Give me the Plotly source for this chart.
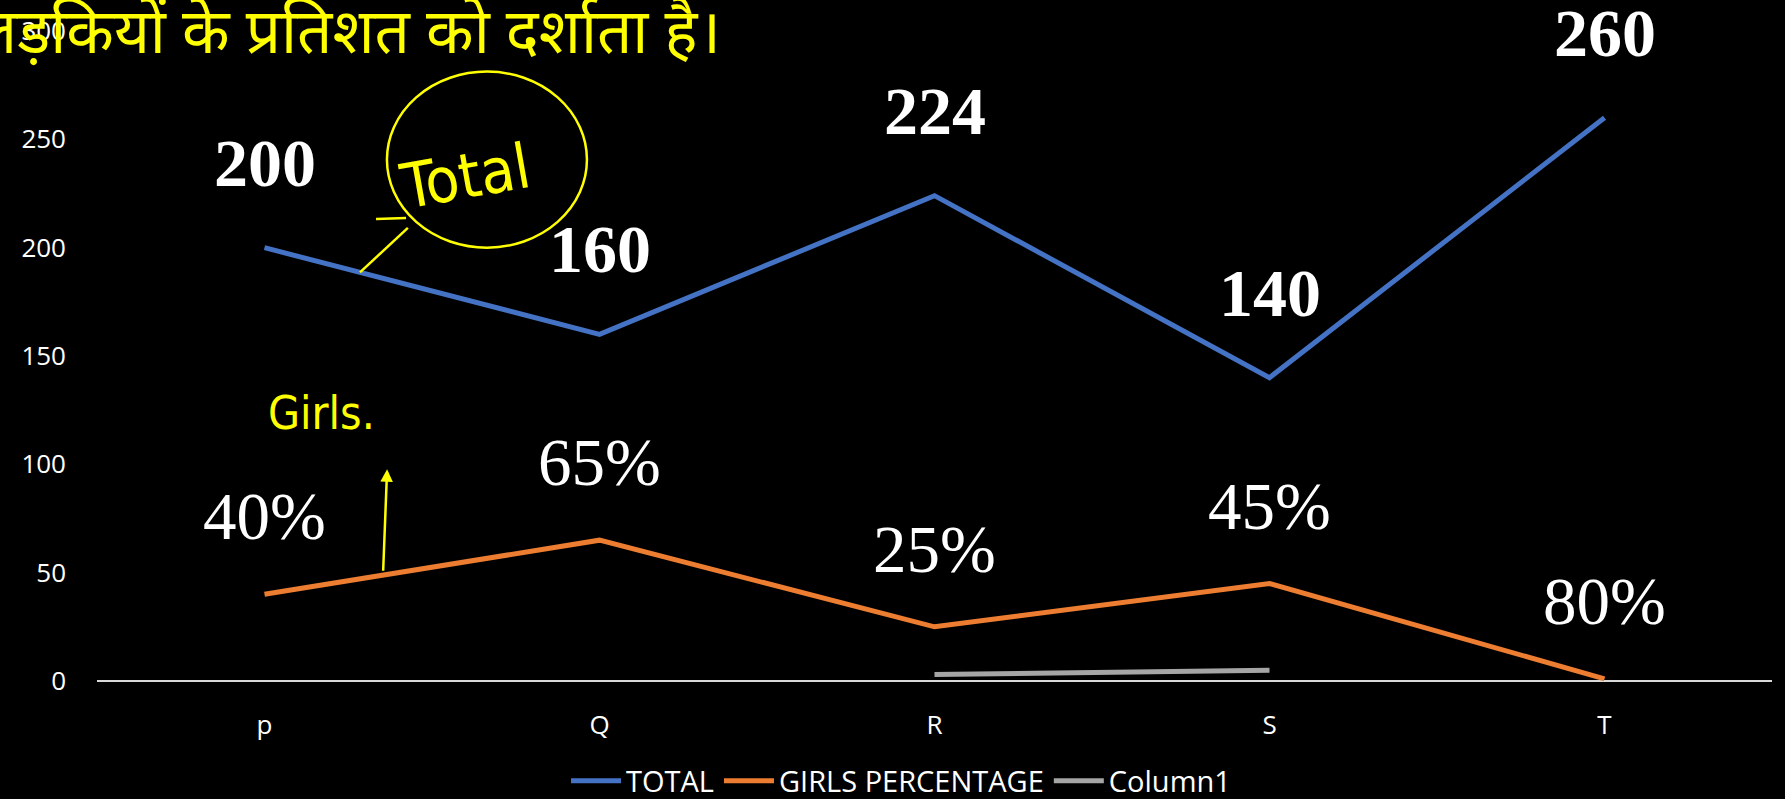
import plotly.graph_objects as go

categories = ["p", "Q", "R", "S", "T"]
total = [200, 160, 224, 140, 260]
girls = [40, 65, 25, 45, 1]
column1 = [None, None, 3, 5, None]
total_labels = ["200", "160", "224", "140", "260"]
girls_labels = ["40%", "65%", "25%", "45%", "80%"]
y_ticks = [0, 50, 100, 150, 200, 250, 300]

fig = go.Figure()
fig.add_trace(go.Scatter(x=categories, y=total, name="TOTAL", mode="lines",
                         line=dict(color="#4472C4", width=5)))
fig.add_trace(go.Scatter(x=categories, y=girls, name="GIRLS PERCENTAGE", mode="lines",
                         line=dict(color="#ED7D31", width=5)))
fig.add_trace(go.Scatter(x=categories, y=column1, name="Column1", mode="lines",
                         line=dict(color="#A5A5A5", width=5)))

annotations = []
for c, v, t in zip(categories, total, total_labels):
    annotations.append(dict(x=c, y=v, text="<b>" + t + "</b>", showarrow=False, yshift=85,
                            font=dict(family="Liberation Serif", size=68, color="white"),
                            xref="x", yref="y"))
for c, v, t in zip(categories, girls, girls_labels):
    annotations.append(dict(x=c, y=v, text=t, showarrow=False, yshift=78,
                            font=dict(family="Liberation Serif", size=67, color="white"),
                            xref="x", yref="y"))

hand_font = "DejaVu Sans Condensed, Liberation Sans Narrow, DejaVu Sans"
# Hindi heading (partly cut at top-left)
annotations.append(dict(x=0.3737, y=1.003, xref="paper", yref="paper", xanchor="right", yanchor="middle",
                        text="लड़कियों के प्रतिशत को दर्शाता है।", showarrow=False,
                        font=dict(size=62, color="#FFFF00", family="Noto Sans, sans-serif")))
# handwritten notes
annotations.append(dict(x=0.2197, y=0.776, xref="paper", yref="paper", xanchor="center", yanchor="middle",
                        text="Total", showarrow=False, textangle=-10,
                        font=dict(size=62, color="#FFFF00", family=hand_font)))
annotations.append(dict(x=0.1340, y=0.4125, xref="paper", yref="paper", xanchor="center", yanchor="middle",
                        text="Girls.", showarrow=False,
                        font=dict(size=46, color="#FFFF00", family=hand_font)))
annotations.append(dict(x=0.1732, y=0.3257, ax=-4, ay=103, xref="paper", yref="paper", text="",
                        showarrow=True, arrowhead=2, arrowwidth=2.5, arrowcolor="#FFFF00"))

shapes = [
    dict(type="circle", xref="paper", yref="paper", x0=0.1731, x1=0.2925, y0=0.6667, y1=0.9376,
         line=dict(color="#FFFF00", width=2.5)),
    # pointer from circle to TOTAL line
    dict(type="line", xref="paper", yref="paper", x0=0.1570, x1=0.1856, y0=0.6286, y1=0.6971,
         line=dict(color="#FFFF00", width=2.5)),
    dict(type="line", xref="paper", yref="paper", x0=0.1666, x1=0.1845, y0=0.7108, y1=0.7123,
         line=dict(color="#FFFF00", width=2.5)),
]

fig.update_layout(
    width=1785, height=799,
    paper_bgcolor="black", plot_bgcolor="black",
    margin=dict(l=97, r=13, t=24, b=118),
    showlegend=True,
    legend=dict(orientation="h", x=0.48, xanchor="center", yref="container", y=0.0225, yanchor="middle",
                itemwidth=50,
                font=dict(family="Open Sans", size=29, color="white"), bgcolor="rgba(0,0,0,0)"),
    xaxis=dict(range=[-0.5, 4.5], showgrid=False, zeroline=False, showline=False,
               tickfont=dict(family="Open Sans", size=26, color="white"), ticks="",
               ticklabelstandoff=26),
    yaxis=dict(range=[0, 300], tickvals=y_ticks, showgrid=False, zeroline=True,
               zerolinecolor="#D9D9D9", zerolinewidth=2, showline=False,
               tickfont=dict(family="Open Sans", size=26, color="white"), ticks="",
               ticklabelstandoff=30),
    annotations=annotations,
    shapes=shapes,
)

fig.write_html("out.html", config={"displayModeBar": False},
               post_script="document.body.style.margin='0';document.body.style.overflow='hidden';document.body.style.background='black';")
